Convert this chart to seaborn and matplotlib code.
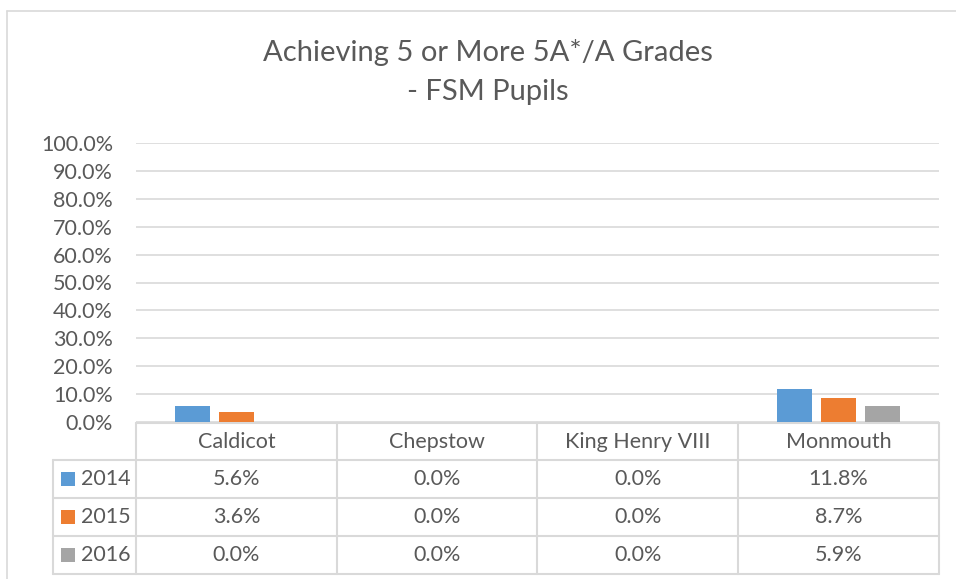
import matplotlib
matplotlib.use("Agg")
import matplotlib.pyplot as plt
import seaborn as sns
import pandas as pd
from matplotlib.patches import Rectangle

# ---- data ----
schools = ["Caldicot", "Chepstow", "King Henry VIII", "Monmouth"]
years = ["2014", "2015", "2016"]
vals_2014 = [0.056, 0.0, 0.0, 0.118]
vals_2015 = [0.036, 0.0, 0.0, 0.087]
vals_2016 = [0.0, 0.0, 0.0, 0.059]
colors = ["#5B9BD5", "#ED7D31", "#A5A5A5"]
title = "Achieving 5 or More 5A*/A Grades\n- FSM Pupils"

series = {"2014": vals_2014, "2015": vals_2015, "2016": vals_2016}
df = pd.DataFrame([(s, y, v) for y in years for s, v in zip(schools, series[y])],
                  columns=["School", "Year", "Value"])

sns.set_style("white")
FONT = ["Lato", "DejaVu Sans"]
plt.rcParams["font.family"] = FONT
TXT = "#595959"
LINE = "#D9D9D9"
FS = 15.5

W, H = 956, 579
fig = plt.figure(figsize=(W / 100, H / 100), dpi=100)

x0, x1, y_top, y_zero = 136, 939, 143, 422
ax = fig.add_axes([x0 / W, 1 - y_zero / H, (x1 - x0) / W, (y_zero - y_top) / H])
sns.barplot(data=df, x="School", y="Value", hue="Year", palette=colors,
            width=0.66, gap=0.2, linewidth=0, saturation=1, ax=ax, legend=False)
ax.set_ylim(0, 1)
ax.set_xlim(-0.5, 3.5)
ax.set_yticks([i / 10 for i in range(11)])
ax.set_yticklabels([f"{i * 10:.1f}%" for i in range(11)], color=TXT, fontsize=FS)
ax.tick_params(axis="y", length=0, pad=16.5)
ax.tick_params(axis="x", length=0, labelbottom=False)
ax.set_xlabel("")
ax.set_ylabel("")
ax.yaxis.grid(True, color=LINE, linewidth=1.2)
ax.set_axisbelow(True)
for s in ax.spines.values():
    s.set_visible(False)
ax.patch.set_alpha(0)

# ---- overlay for table, border and title ----
ov = fig.add_axes([0, 0, 1, 1], zorder=-1)
ov.set_xlim(0, W)
ov.set_ylim(H, 0)
ov.axis("off")

# outer chart border
ov.plot([7, 7], [11, H], color=LINE, lw=1.2)
ov.plot([7, W], [11, 11], color=LINE, lw=1.2)

ov.text(488, 52, title.split("\n")[0], ha="center", va="center", fontsize=21, color=TXT)
ov.text(488, 92, title.split("\n")[1], ha="center", va="center", fontsize=21, color=TXT)

# data table
col_w = (x1 - x0) / len(schools)
col_edges = [x0 + i * col_w for i in range(len(schools) + 1)]
row_edges = [423, 460, 498, 536, 574]
left = 53
lw = 1.5
ov.plot([x0, x1], [row_edges[0], row_edges[0]], color=LINE, lw=lw)
for r in row_edges[1:]:
    ov.plot([left, x1], [r, r], color=LINE, lw=lw)
ov.plot([left, left], [row_edges[1], row_edges[-1]], color=LINE, lw=lw)
for c in col_edges:
    ov.plot([c, c], [row_edges[0], row_edges[-1]], color=LINE, lw=lw)

for i, s in enumerate(schools):
    cx = (col_edges[i] + col_edges[i + 1]) / 2
    ov.text(cx, (row_edges[0] + row_edges[1]) / 2, s, ha="center", va="center",
            fontsize=FS, color=TXT)
for j, y in enumerate(years):
    cy = (row_edges[j + 1] + row_edges[j + 2]) / 2
    ov.add_patch(Rectangle((61, cy - 7), 14, 14, color=colors[j], lw=0))
    ov.text(81, cy, y, ha="left", va="center", fontsize=FS, color=TXT)
    for i, v in enumerate(series[y]):
        cx = (col_edges[i] + col_edges[i + 1]) / 2
        ov.text(cx, cy, f"{v * 100:.1f}%", ha="center", va="center",
                fontsize=FS, color=TXT)

fig.savefig("out.png", dpi=100)
